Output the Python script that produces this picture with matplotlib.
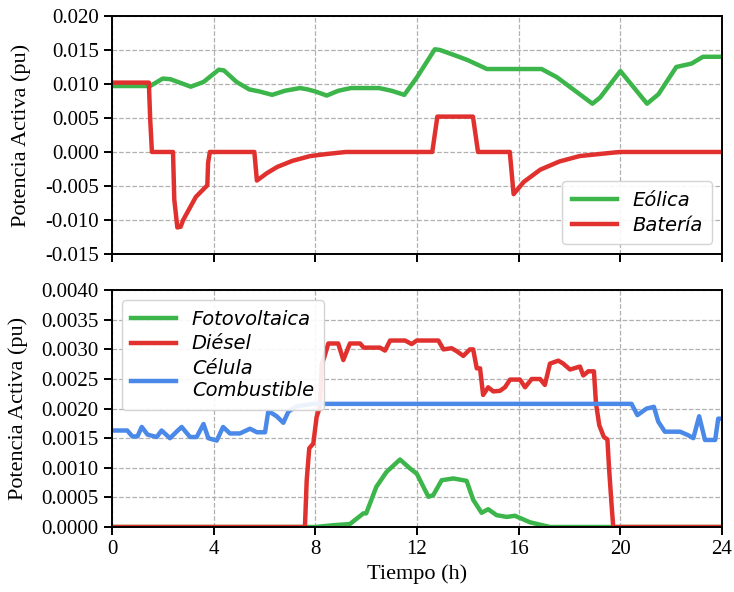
import matplotlib
matplotlib.use("Agg")
import matplotlib.pyplot as plt
import numpy as np

# ---- Data (hours, pu) ----
eolica_t = [0, 1.5, 2.0, 2.3, 3.1, 3.6, 4.2, 4.4, 4.9, 5.4, 5.8, 6.3, 6.8, 7.4, 7.7, 8.0, 8.45, 8.9, 9.4, 10.5, 11.0, 11.5, 12.0, 12.7, 12.9, 13.5, 14.0, 14.75, 16.9, 17.5, 18.9, 19.2, 20.0, 21.05, 21.5, 22.2, 22.8, 23.25, 24]
eolica_v = [0.0097, 0.0097, 0.0108, 0.0107, 0.0096, 0.0103, 0.0121, 0.0120, 0.0103, 0.0092, 0.0089, 0.0084, 0.0090, 0.0094, 0.0092, 0.0089, 0.0083, 0.0090, 0.0094, 0.0094, 0.0090, 0.0084, 0.0110, 0.0151, 0.0150, 0.0142, 0.0135, 0.0122, 0.0122, 0.0110, 0.0071, 0.0080, 0.0119, 0.0071, 0.0085, 0.0125, 0.0130, 0.0140, 0.0140]

bateria_t = [0, 1.45, 1.5, 1.57, 2.4, 2.45, 2.57, 2.7, 2.8, 3.3, 3.75, 3.78, 3.85, 5.6, 5.7, 6.1, 6.5, 7.1, 7.8, 8.45, 9.2, 12.6, 12.8, 14.2, 14.4, 15.65, 15.8, 16.2, 16.85, 17.6, 18.4, 19.7, 20.0, 24]
bateria_v = [0.0102, 0.0102, 0.0050, 0.0, 0.0, -0.0070, -0.0111, -0.0110, -0.0100, -0.0066, -0.0049, -0.0016, 0.0, 0.0, -0.0042, -0.0031, -0.0022, -0.0013, -0.0006, -0.0003, 0.0, 0.0, 0.0052, 0.0052, 0.0, 0.0, -0.0062, -0.0044, -0.0026, -0.0014, -0.0006, -0.0001, 0.0, 0.0]

foto_t = [0, 8.0, 8.7, 9.36, 9.89, 10.0, 10.4, 10.8, 11.33, 11.72, 11.99, 12.45, 12.64, 12.97, 13.43, 13.95, 14.21, 14.54, 14.8, 15.13, 15.53, 15.85, 16.44, 17.23, 24]
foto_v = [0, 0, 0.00003, 0.00005, 0.00023, 0.00023, 0.00068, 0.00093, 0.00114, 0.00099, 0.00090, 0.00051, 0.00054, 0.00079, 0.00082, 0.00078, 0.00046, 0.00024, 0.00030, 0.00020, 0.00017, 0.00019, 0.00008, 0, 0]

diesel_t = [0, 7.59, 7.66, 7.76, 7.92, 8.05, 8.18, 8.25, 8.34, 8.51, 8.9, 9.1, 9.36, 9.76, 9.9, 10.54, 10.74, 10.94, 11.53, 11.79, 11.99, 12.84, 13.04, 13.36, 13.56, 13.82, 14.08, 14.21, 14.35, 14.48, 14.6, 14.8, 15.0, 15.26, 15.46, 15.66, 16.05, 16.25, 16.51, 16.84, 17.03, 17.23, 17.56, 17.75, 18.02, 18.41, 18.54, 18.74, 18.96, 19.04, 19.17, 19.35, 19.49, 19.56, 19.66, 19.72, 24]
diesel_v = [0, 0, 0.00079, 0.00133, 0.00141, 0.00186, 0.00203, 0.00276, 0.00285, 0.00310, 0.00310, 0.00282, 0.00310, 0.00310, 0.00303, 0.00303, 0.00298, 0.00315, 0.00315, 0.00309, 0.00315, 0.00315, 0.00300, 0.00302, 0.00297, 0.00289, 0.00300, 0.00300, 0.00268, 0.00268, 0.00223, 0.00236, 0.00229, 0.00230, 0.00236, 0.00249, 0.00249, 0.00236, 0.00250, 0.00250, 0.00240, 0.00276, 0.00281, 0.00276, 0.00266, 0.00271, 0.00256, 0.00263, 0.00263, 0.00209, 0.00172, 0.00152, 0.00148, 0.00096, 0.00034, 0, 0]

celula_t = [0, 0.6, 0.8, 1.0, 1.17, 1.4, 1.76, 1.95, 2.28, 2.54, 2.74, 3.07, 3.33, 3.6, 3.79, 4.12, 4.37, 4.64, 5.03, 5.43, 5.7, 6.02, 6.15, 6.48, 6.74, 6.94, 7.27, 7.92, 20.44, 20.67, 21.03, 21.32, 21.49, 21.75, 22.35, 22.67, 22.87, 23.1, 23.33, 23.73, 23.85, 24]
celula_v = [0.00163, 0.00163, 0.00153, 0.00153, 0.00169, 0.00156, 0.00152, 0.00163, 0.00150, 0.00161, 0.00169, 0.00152, 0.00152, 0.00174, 0.00150, 0.00146, 0.00169, 0.00158, 0.00158, 0.00166, 0.00160, 0.00160, 0.00196, 0.00187, 0.00176, 0.00195, 0.00204, 0.00208, 0.00208, 0.00189, 0.00200, 0.00203, 0.00178, 0.00161, 0.00161, 0.00155, 0.00150, 0.00187, 0.00147, 0.00147, 0.00183, 0.00183]

x_ticks = [0, 4, 8, 12, 16, 20, 24]
top_yticks = [0.020, 0.015, 0.010, 0.005, 0.000, -0.005, -0.010, -0.015]
bot_yticks = [0.0040, 0.0035, 0.0030, 0.0025, 0.0020, 0.0015, 0.0010, 0.0005, 0.0000]

GREEN = '#3cb54a'
RED = '#e0312f'
BLUE = '#4a89e8'

plt.rcParams['font.family'] = ['Liberation Serif', 'DejaVu Serif']
plt.rcParams['axes.unicode_minus'] = True
TICK_FS = 15

fig = plt.figure(figsize=(7.34, 5.92), dpi=100)
ax1 = fig.add_axes([0.1526, 0.571, 0.8311, 0.402])
ax2 = fig.add_axes([0.1526, 0.1098, 0.8311, 0.400])

lw = 3.2
ax1.plot(eolica_t, eolica_v, color=GREEN, lw=lw, label='Eólica')
ax1.plot(bateria_t, bateria_v, color=RED, lw=lw, label='Batería')

ax2.plot(foto_t, foto_v, color=GREEN, lw=lw, label='Fotovoltaica')
ax2.plot(diesel_t, diesel_v, color=RED, lw=lw, label='Diésel')
ax2.plot(celula_t, celula_v, color=BLUE, lw=lw, label='Célula\nCombustible')

for ax in (ax1, ax2):
    ax.set_xlim(0, 24)
    ax.set_xticks(x_ticks)
    ax.grid(True, linestyle='--', color='#b0b0b0', linewidth=0.9)
    for s in ax.spines.values():
        s.set_linewidth(1.4)
        s.set_color('black')
    ax.tick_params(direction='out', length=6, width=1.4, labelsize=TICK_FS)
    ax.set_ylabel('Potencia Activa (pu)', fontsize=16, labelpad=10)

ax1.set_ylim(-0.015, 0.020)
ax1.set_yticks(top_yticks)
ax1.yaxis.set_major_formatter(matplotlib.ticker.FormatStrFormatter('%.3f'))
ax1.tick_params(labelbottom=False)

ax2.set_ylim(0, 0.004)
ax2.set_yticks(bot_yticks)
ax2.yaxis.set_major_formatter(matplotlib.ticker.FormatStrFormatter('%.4f'))
ax2.set_xlabel('Tiempo (h)', fontsize=16)

leg_font = {'family': 'DejaVu Sans', 'style': 'italic', 'size': 14}
ax1.legend(loc='lower right', prop=leg_font, framealpha=0.9, edgecolor='#d0d0d0',
           handlelength=2.3, borderpad=0.5, labelspacing=0.3)
ax2.legend(loc='upper left', prop=leg_font, framealpha=0.9, edgecolor='#d0d0d0',
           handlelength=2.3, borderpad=0.5, labelspacing=0.3)

fig.savefig('out.png', dpi=100)
